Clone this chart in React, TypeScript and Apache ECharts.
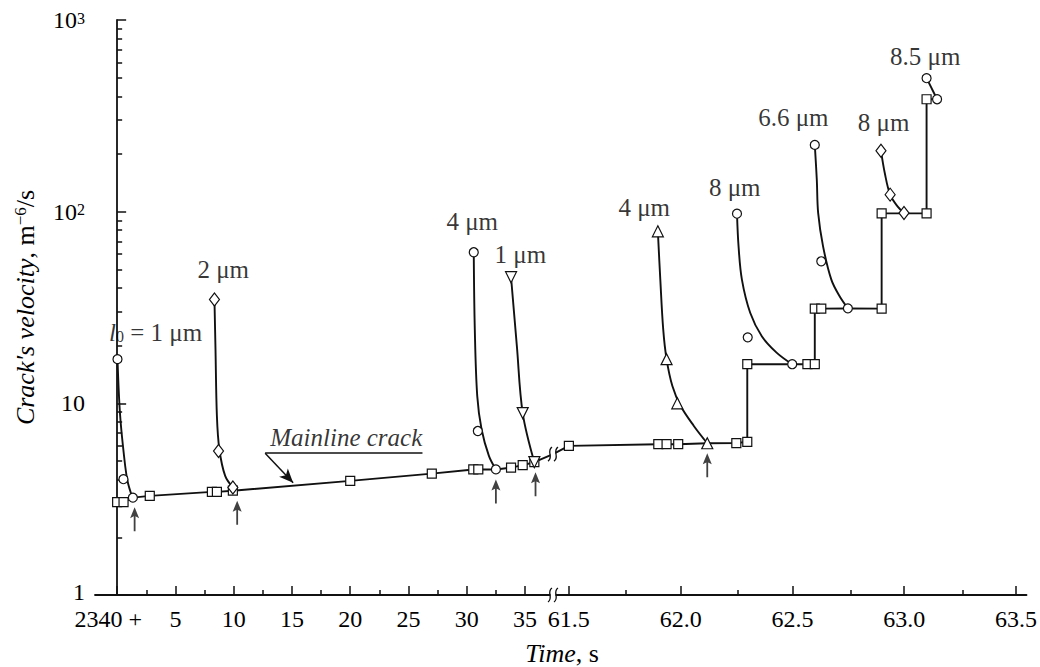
import React, { useEffect, useRef } from "react";
import * as echarts from "echarts";

const FONT = "Liberation Serif";
const INK = "#111111";
const TEXT = "#000000";

// ---------------- axes ----------------
const leftMajorTicks = [0, 5, 10, 15, 20, 25, 30, 35];
const leftMinorTicks = [2.5, 7.5, 12.5, 17.5, 22.5, 27.5, 32.5];
const leftTickLabels = ["2340 +", "5", "10", "15", "20", "25", "30", "35"];
const rightMajorTicks = [61.5, 62.0, 62.5, 63.0, 63.5];
const rightMinorTicks = [61.75, 62.25, 62.75, 63.25];
const rightTickLabels = ["61.5", "62.0", "62.5", "63.0", "63.5"];
const yMajorTicks = [1, 10, 100, 1000];
const yMajorExponents = [0, 1, 2, 3];
const yMinorTicks = [2, 3, 4, 5, 6, 7, 8, 9, 20, 30, 40, 50, 60, 70, 80, 90, 200, 300, 400, 500, 600, 700, 800, 900];

// ---------------- mainline crack: [time, velocity, square marker 1/0] ----------------
const mainlineLeft = [
  [0, 3.05, 1], [0.55, 3.05, 1], [1.35, 3.22, 0], [2.8, 3.29, 1],
  [8.13, 3.45, 1], [8.56, 3.45, 1], [9.93, 3.5, 1], [20.0, 3.94, 1],
  [27.0, 4.3, 1], [30.56, 4.52, 1], [30.99, 4.52, 1], [32.5, 4.52, 0],
  [33.8, 4.62, 1], [34.8, 4.76, 1], [35.8, 4.93, 1], [37.4, 5.43, 0],
];
const mainlineRight = [
  [61.429, 5.43, 0], [61.5, 6.0, 1], [61.9, 6.12, 1], [61.937, 6.12, 1], [61.989, 6.12, 1],
  [62.119, 6.19, 0], [62.249, 6.2, 1], [62.298, 6.3, 1], [62.298, 16.0, 1], [62.499, 16.0, 0],
  [62.567, 16.0, 1], [62.6, 16.0, 1], [62.6, 31.2, 1], [62.629, 31.2, 1], [62.748, 31.3, 0],
  [62.899, 31.2, 1], [62.899, 98, 1], [62.999, 98, 0], [63.1, 98, 1], [63.1, 386, 1], [63.147, 386, 0],
];

// ---------------- secondary cracks (markers and fitted curves) ----------------
const crack1Markers = [[0.03, 17.0], [0.54, 4.02], [1.35, 3.22]];
const crack1Curve = [[0.03, 17.0], [0.26, 8.59], [0.69, 4.71], [0.92, 3.86], [1.26, 3.29], [1.35, 3.22]];
const crack2Markers = [[8.35, 34.8], [8.7, 5.64], [9.93, 3.64]];
const crack2Curve = [[8.35, 34.8], [8.44, 19.1], [8.56, 8.59], [8.77, 5.76], [9.27, 4.18], [9.93, 3.64]];
const crack3Markers = [[30.6, 61.4], [30.95, 7.17], [32.5, 4.52]];
const crack3Curve = [[30.6, 61.4], [30.69, 24.3], [30.9, 10.9], [31.27, 7.32], [31.9, 5.32], [32.5, 4.52]];
const crack4Markers = [[33.8, 45.5], [34.8, 8.9], [35.8, 4.93]];
const crack4Curve = [[33.8, 45.5], [34.3, 19.9], [34.8, 8.9], [35.8, 4.93]];
const crack5Markers = [[61.898, 79], [61.937, 17.0], [61.985, 10.0], [62.119, 6.19]];
const crack5Curve = [[61.898, 79], [61.909, 44.2], [61.922, 24.3], [61.937, 17.0], [61.963, 12.3], [62.0, 9.68], [62.059, 7.62], [62.119, 6.19]];
const crack6Markers = [[62.252, 97.6], [62.3, 22.1], [62.499, 16.0]];
const crack6Curve = [[62.252, 97.6], [62.259, 65.9], [62.274, 44.2], [62.311, 29.7], [62.363, 22.4], [62.429, 18.4], [62.499, 16.0]];
const crack7Markers = [[62.6, 223], [62.629, 55.1], [62.748, 31.3]];
const crack7Curve = [[62.6, 223], [62.609, 146.8], [62.615, 98.5], [62.637, 65.9], [62.674, 44.2], [62.711, 36.2], [62.748, 31.3]];
const crack8Markers = [[62.896, 208], [62.937, 122.7], [62.999, 98.5]];
const crack8Curve = [[62.896, 208], [62.913, 159], [62.937, 122.7], [62.97, 106.6], [62.999, 98.5]];
const crack9Markers = [[63.1, 497], [63.147, 386]];
const crack9Curve = [[63.1, 497], [63.147, 386]];

// initial crack lengths (labels) and their anchors [time, velocity]
const leftLabelTexts = ["{it|l}{sub|0}{n| = 1 μm}", "{n|2 μm}", "{n|4 μm}", "{n|1 μm}"];
const leftLabelAnchors = [[3.3, 23.4], [9.1, 49.9], [30.47, 88.7], [34.6, 59.7]];
const rightLabelTexts = ["{n|4 μm}", "{n|8 μm}", "{n|6.6 μm}", "{n|8 μm}", "{n|8.5 μm}"];
const rightLabelAnchors = [[61.837, 104.9], [62.242, 133.4], [62.504, 309], [62.908, 290.7], [63.094, 641.6]];

// start-of-crack arrows, placed on the mainline
const leftArrows = [[1.5, 3.24], [10.3, 3.5], [32.5, 4.52], [35.9, 4.93]];
const rightArrows = [[62.119, 6.19]];

// "Mainline crack" annotation
const mainlineLabelAnchor = [19.66, 6.65];
const mainlineUnderline = [[12.7, 5.49], [26.2, 5.49]];
const mainlineLeader = [[12.7, 5.49], [15.1, 3.85]];

const ARROW_PATH = "path://M4.5,0 L9,11 L5.4,9.2 L5.4,24 L3.6,24 L3.6,9.2 L0,11 Z";

const rich = {
  n: { fontFamily: FONT, fontSize: 25, color: TEXT, lineHeight: 24 },
  it: { fontFamily: FONT, fontSize: 25, color: TEXT, fontStyle: "italic", lineHeight: 24 },
  sub: { fontFamily: FONT, fontSize: 16, color: TEXT, lineHeight: 14, verticalAlign: "bottom" },
  sup: { fontFamily: FONT, fontSize: 16, color: TEXT, lineHeight: 14, verticalAlign: "top" },
  k: { fontFamily: FONT, fontSize: 24, color: TEXT, lineHeight: 20 },
  k1: { fontFamily: FONT, fontSize: 24, color: TEXT, lineHeight: 20, padding: [0, 0, 6, 0] },
  a: { fontFamily: FONT, fontSize: 24, color: TEXT, lineHeight: 20, padding: [0, 18, 0, 0] },
  ksup: { fontFamily: FONT, fontSize: 16, color: TEXT, lineHeight: 12, verticalAlign: "top" },
  tn: { fontFamily: FONT, fontSize: 26, color: TEXT, lineHeight: 26 },
  ti: { fontFamily: FONT, fontSize: 26, color: TEXT, fontStyle: "italic", lineHeight: 26 },
  tsup: { fontFamily: FONT, fontSize: 17, color: TEXT, lineHeight: 15, verticalAlign: "top" },
};

function buildOption() {
  const line = { color: INK, width: 1.8 };
  const tick = { color: INK, width: 1.5 };
  const L = (i: number) => ({ xAxisIndex: i, yAxisIndex: i });

  const curve = (data: number[][], g: number) => ({
    type: "line", ...L(g), data, smooth: 0.35, symbol: "none", silent: true,
    lineStyle: { color: INK, width: 1.9 }, z: 2,
  });
  const marks = (data: number[][], g: number, symbol: string, size: any, rotate = 0) => ({
    type: "scatter", ...L(g), data, symbol, symbolSize: size, symbolRotate: rotate, silent: true,
    itemStyle: { color: "#ffffff", borderColor: INK, borderWidth: 1.2, opacity: 1 }, z: 5,
  });
  const mainline = (rows: number[][], g: number) => ({
    type: "line", ...L(g), showAllSymbol: true, silent: true, z: 3,
    data: rows.map((r) => ({ value: [r[0], r[1]], symbol: r[2] ? "rect" : "none" })),
    symbolSize: 9, lineStyle: { color: INK, width: 1.9 },
    itemStyle: { color: "#ffffff", borderColor: INK, borderWidth: 1.2 },
  });
  const labels = (texts: string[], anchors: number[][], g: number) => ({
    type: "scatter", ...L(g), silent: true, z: 6, symbol: "circle", symbolSize: 1,
    itemStyle: { color: "rgba(0,0,0,0)" },
    data: anchors.map((p, i) => ({ value: p, name: texts[i] })),
    label: { show: true, position: "inside", formatter: (p: any) => p.name, rich },
  });
  const arrows = (data: number[][], g: number) => ({
    type: "scatter", ...L(g), data, silent: true, z: 4, symbol: ARROW_PATH,
    symbolSize: [9, 24], symbolOffset: [0, 22], itemStyle: { color: INK },
  });

  const xMajor = (g: number, min: number, max: number, ticks: number[], texts: string[]) => ({
    type: "value", gridIndex: g, min, max, splitLine: { show: false },
    axisLine: { show: true, onZero: false, lineStyle: line },
    axisTick: { show: true, inside: true, length: 9, customValues: ticks, lineStyle: tick },
    axisLabel: {
      show: true, customValues: ticks, margin: 14, rich,
      formatter: (v: number) => {
        const i = ticks.findIndex((t) => Math.abs(t - v) < 1e-6);
        const s = i >= 0 ? texts[i] : String(v);
        return i === 0 && g === 0 ? `{a|${s}}` : `{k|${s}}`;
      },
    },
  });
  const xMinor = (g: number, min: number, max: number, ticks: number[]) => ({
    type: "value", gridIndex: g, min, max, splitLine: { show: false },
    axisLine: { show: false },
    axisTick: { show: true, inside: true, length: 5, customValues: ticks, lineStyle: tick },
    axisLabel: { show: false },
  });

  return {
    animation: false,
    backgroundColor: "#ffffff",
    textStyle: { fontFamily: FONT, color: TEXT },
    grid: [
      { left: 95, top: 20, width: 458, height: 575 },
      { left: 553, top: 20, width: 477, height: 575 },
      { left: 95, top: 20, width: 458, height: 575 },
      { left: 553, top: 20, width: 477, height: 575 },
    ],
    xAxis: [
      xMajor(0, -1.9, 37.4, leftMajorTicks, leftTickLabels),
      xMajor(1, 61.429, 63.547, rightMajorTicks, rightTickLabels),
      xMinor(2, -1.9, 37.4, leftMinorTicks),
      xMinor(3, 61.429, 63.547, rightMinorTicks),
    ],
    yAxis: [
      {
        type: "log", logBase: 10, gridIndex: 0, min: 1, max: 1000, splitLine: { show: false },
        axisLine: { show: true, lineStyle: line },
        axisTick: { show: true, inside: true, length: 9, customValues: yMajorTicks, lineStyle: tick },
        axisLabel: {
          show: true, margin: 10, customValues: yMajorTicks, rich,
          formatter: (v: number) => {
            const i = yMajorTicks.findIndex((t) => Math.abs(t - v) < 1e-6 * t);
            const e = yMajorExponents[i];
            if (e === 0) return "{k1|1}";
            if (e === 1) return "{k|10}";
            return `{k|10}{ksup|${e}}`;
          },
        },
        name: "{ti|Crack's velocity}{tn|, m}{tsup|−6}{tn|/s}",
        nameLocation: "middle", nameGap: 57, nameRotate: 90,
        nameTextStyle: { rich },
      },
      { type: "log", logBase: 10, gridIndex: 1, min: 1, max: 1000, show: false },
      {
        type: "log", logBase: 10, gridIndex: 2, min: 1, max: 1000, splitLine: { show: false },
        axisLine: { show: false },
        axisTick: { show: true, inside: true, length: 5, customValues: yMinorTicks, lineStyle: tick },
        axisLabel: { show: false },
      },
      { type: "log", logBase: 10, gridIndex: 3, min: 1, max: 1000, show: false },
    ],
    series: [
      mainline(mainlineLeft, 0),
      mainline(mainlineRight, 1),
      curve(crack1Curve, 0), marks(crack1Markers, 0, "circle", 9),
      curve(crack2Curve, 0), marks(crack2Markers, 0, "diamond", [10, 13]),
      curve(crack3Curve, 0), marks(crack3Markers, 0, "circle", 9),
      curve(crack4Curve, 0), marks(crack4Markers, 0, "triangle", 11, 180),
      curve(crack5Curve, 1), marks(crack5Markers, 1, "triangle", 11),
      curve(crack6Curve, 1), marks(crack6Markers, 1, "circle", 9),
      curve(crack7Curve, 1), marks(crack7Markers, 1, "circle", 9),
      curve(crack8Curve, 1), marks(crack8Markers, 1, "diamond", [10, 13]),
      curve(crack9Curve, 1), marks(crack9Markers, 1, "circle", 9),
      labels(leftLabelTexts, leftLabelAnchors, 0),
      labels(rightLabelTexts, rightLabelAnchors, 1),
      arrows(leftArrows, 0),
      arrows(rightArrows, 1),
      {
        type: "scatter", ...L(0), silent: true, z: 6, symbol: "circle", symbolSize: 1,
        itemStyle: { color: "rgba(0,0,0,0)" },
        data: [{ value: mainlineLabelAnchor, name: "{it|Mainline crack}" }],
        label: { show: true, position: "inside", formatter: (p: any) => p.name, rich },
        markLine: {
          silent: true, animation: false, label: { show: false },
          lineStyle: { color: INK, width: 1.5, type: "solid" },
          symbolSize: [9, 14],
          data: [
            [{ coord: mainlineUnderline[0], symbol: "none" }, { coord: mainlineUnderline[1], symbol: "none" }],
            [{ coord: mainlineLeader[0], symbol: "none" }, { coord: mainlineLeader[1], symbol: "arrow" }],
          ],
        },
      },
    ],
  };
}

function breakMark(x: number, y: number) {
  const s = (dx: number) => ({
    type: "bezierCurve",
    shape: { x1: x + dx - 2, y1: y + 7, x2: x + dx + 2, y2: y - 7, cpx1: x + dx + 4, cpy1: y + 3, cpx2: x + dx - 4, cpy2: y - 3 },
    style: { stroke: INK, lineWidth: 1.3, fill: null },
    z: 100,
  });
  return [
    { type: "rect", shape: { x: x - 2.5, y: y - 3, width: 5, height: 6 }, style: { fill: "#ffffff" }, z: 99 },
    s(-3), s(3),
  ];
}

export default function App() {
  const ref = useRef<HTMLDivElement>(null);
  useEffect(() => {
    const chart = echarts.init(ref.current!, null, { renderer: "svg" });
    chart.setOption(buildOption() as any);
    const axisY = chart.convertToPixel({ yAxisIndex: 0 }, 1) as number;
    const breakX = chart.convertToPixel({ xAxisIndex: 0 }, 37.4) as number;
    const connY = chart.convertToPixel({ yAxisIndex: 0 }, mainlineLeft[mainlineLeft.length - 1][1]) as number;
    chart.setOption({
      graphic: [
        ...breakMark(breakX, axisY),
        ...breakMark(breakX, connY),
        {
          type: "text", x: 562, y: 653, z: 100,
          style: { text: "{ti|Time}{tn|, s}", rich, align: "center", verticalAlign: "middle" },
        },
      ],
    } as any);
    return () => chart.dispose();
  }, []);
  return (
    <div
      ref={ref}
      style={{ position: "fixed", left: 0, top: 0, width: 1040, height: 667, background: "#fff" }}
    />
  );
}
